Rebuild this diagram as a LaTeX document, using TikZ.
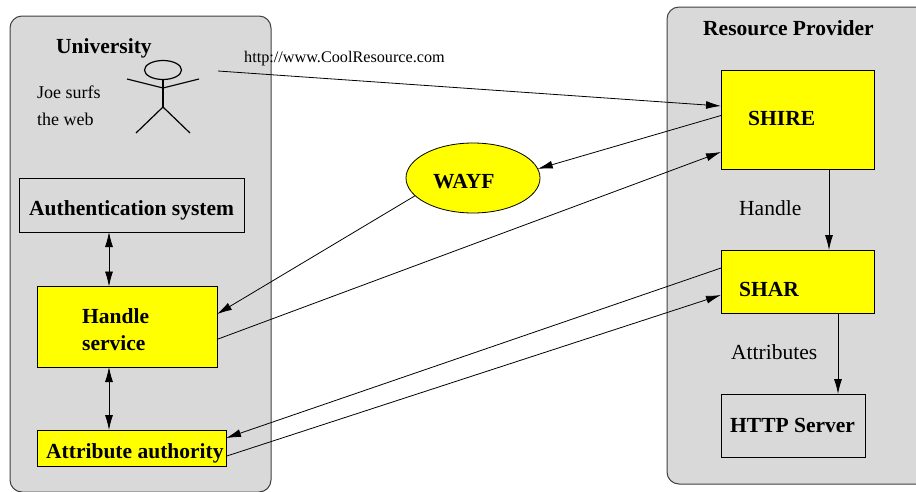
\documentclass[tikz,border=0pt]{standalone}
\usepackage{fontspec}
\setmainfont{Liberation Serif}
\usepackage{tikz}
\usetikzlibrary{arrows.meta,%
  shapes.geometric%
}

\definecolor{sitegray}{HTML}{D9D9D9}
\definecolor{boxyellow}{RGB}{255,255,0}

\tikzset{
    site/.style={draw=black!75,fill=sitegray,line width=1pt,rounded corners=12pt},
    sysbox/.style={draw,line width=.8pt,inner sep=0pt,outer sep=0pt},
    yellowbox/.style={sysbox,fill=boxyellow},
    boldlabel/.style={anchor=base west,inner sep=0pt,font=\fontsize{21.5}{24}\selectfont\bfseries},
    plainlabel/.style={anchor=base west,inner sep=0pt,font=\fontsize{18}{22}\selectfont},
    biglabel/.style={anchor=base west,inner sep=0pt,font=\fontsize{21.5}{24}\selectfont},
    conn/.style={line width=.8pt,-{Latex[length=15pt,width=8pt]}},
    bothconn/.style={line width=.8pt,{Latex[length=15pt,width=8pt]}-{Latex[length=15pt,width=8pt]}},
    figureline/.style={line width=1.2pt}
}

\begin{document}
\begin{tikzpicture}[x=1pt,y=-1pt]
    \useasboundingbox (0,0) rectangle (916,491);
    \clip (0,0) rectangle (916,491);

    % the two sites
    \draw[site] (10,16) rectangle (271,492);
    \draw[site] (667,7) rectangle (940,484);
    \node[boldlabel] (university) at (56,53) {University};
    \node[boldlabel] (provider) at (703,35) {Resource Provider};

    % Joe
    \node[draw,ellipse,figureline,inner sep=0pt,minimum width=37pt,minimum height=19pt] (head) at (163,70) {};
    \coordinate (hip) at (163,107);
    \draw[figureline] (head.south) -- (hip);
    \draw[figureline] (127,79) -- (163,88) -- (199,79);
    \draw[figureline] (136,133) -- (hip) -- (190,133);
    \node[plainlabel] (joe) at (37,98) {Joe surfs};
    \node[plainlabel] (web) at (37,125) {the web};
    \coordinate (joehand) at (218,71);
    \node[anchor=base west,inner sep=0pt,font=\fontsize{16.2}{18}\selectfont] (url) at (244,62) {http://www.CoolResource.com};

    % boxes, university side
    \node[sysbox,minimum width=225pt,minimum height=54pt] (auth) at (131.5,205) {};
    \node[yellowbox,minimum width=180pt,minimum height=80.5pt] (hs) at (127,326.75) {};
    \node[yellowbox,minimum width=189pt,minimum height=36pt] (aa) at (131.5,448) {};
    \node[boldlabel] (authtext) at (29,215) {Authentication system};
    \node[boldlabel] (hstext) at (82,323) {Handle};
    \node[boldlabel] (hstexttwo) at (82,350) {service};
    \node[boldlabel] (aatext) at (46,458) {Attribute authority};

    % WAYF
    \node[yellowbox,ellipse,minimum width=134pt,minimum height=70pt] (wayf) at (473,178) {};
    \node[boldlabel] (wayftext) at (433,188) {WAYF};

    % boxes, provider side
    \node[yellowbox,minimum width=153pt,minimum height=99pt] (shire) at (797.5,119.5) {};
    \node[yellowbox,minimum width=153pt,minimum height=63pt] (shar) at (797.5,281.5) {};
    \node[sysbox,minimum width=144pt,minimum height=63pt] (http) at (793,425.5) {};
    \node[boldlabel] (shiretext) at (748,125) {SHIRE};
    \node[boldlabel] (shartext) at (739,296) {SHAR};
    \node[boldlabel] (httptext) at (730,432) {HTTP Server};
    \node[biglabel] (handle) at (739,215) {Handle};
    \node[biglabel] (attrs) at (731,359) {Attributes};

    % connectors
    \draw[conn] (joehand) -- (shire.170);
    \draw[conn] (shire.177.4) -- (wayf.8);
    \draw[conn] (wayf.197) -- (hs.8.7);
    \draw[conn] (hs.-8.4) -- (shire.203);
    \draw[conn] (shar.170) -- (aa.6);
    \draw[conn] (aa.-5.4) -- (shar.190);
    \draw[bothconn] ([xshift=-22.5pt]auth.south) -- ([xshift=-18pt]hs.north);
    \draw[bothconn] ([xshift=-18pt]hs.south) -- ([xshift=-22.5pt]aa.north);
    \draw[conn] ([xshift=31.5pt]shire.south) -- ([xshift=31.5pt]shar.north);
    \draw[conn] ([xshift=40.5pt]shar.south) -- ([xshift=45pt]http.north);
\end{tikzpicture}
\end{document}
